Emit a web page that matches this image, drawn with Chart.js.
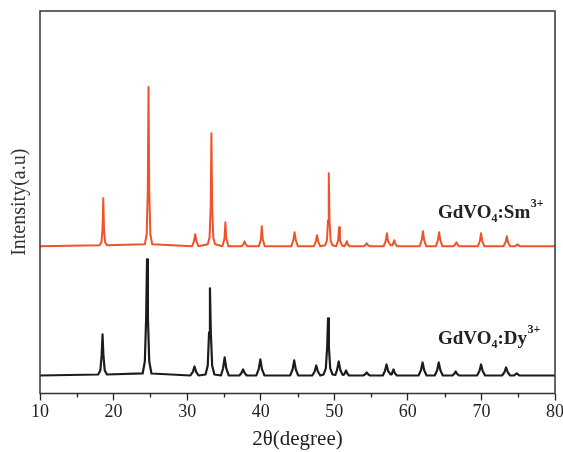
<!DOCTYPE html>
<html>
<head>
<meta charset="utf-8">
<title>GdVO4 XRD</title>
<script src="https://cdn.jsdelivr.net/npm/chart.js@4/dist/chart.umd.min.js"></script>
<style>
    body { margin: 0; background: #fff; }
    #wrap { width: 563px; height: 452px; }
</style>
</head>
<body>
<div id="wrap"><canvas id="xrdChart"></canvas></div>
<script>
// [2theta, intensity above baseline], one line per peak
const smPattern = [
    [10, 0],
    [18.1, 1], [18.35, 4], [18.5, 17], [18.6, 48], [18.7, 17], [18.85, 4], [19.1, 1],
    [24.25, 2], [24.5, 12], [24.65, 55], [24.75, 159], [24.85, 55], [25.0, 12], [25.25, 2],
    [30.65, 0], [30.93, 5], [31.1, 12], [31.27, 5], [31.55, 0],
    [32.8, 2], [33.05, 9], [33.2, 40], [33.3, 113], [33.4, 40], [33.55, 9], [33.8, 2],
    [34.8, 0], [35.08, 8], [35.2, 24], [35.32, 8], [35.6, 0],
    [37.4, 0], [37.63, 2], [37.8, 5], [37.97, 2], [38.2, 0],
    [39.75, 0], [40.03, 7], [40.15, 20], [40.27, 7], [40.55, 0],
    [44.15, 0], [44.43, 6], [44.6, 14], [44.77, 6], [45.05, 0],
    [47.2, 0], [47.48, 4.5], [47.65, 11], [47.82, 4.5], [48.1, 0],
    [48.75, 1], [49.0, 6], [49.15, 26], [49.25, 73], [49.35, 26], [49.5, 6], [49.75, 1],
    [50.25, 0], [50.53, 6], [50.65, 19], [50.77, 6], [51.05, 1],
    [51.35, 0], [51.55, 2], [51.7, 5], [51.85, 2], [52.05, 0],
    [54.0, 0], [54.22, 1.2], [54.4, 3], [54.58, 1.2], [54.8, 0],
    [56.7, 0], [56.98, 5], [57.15, 13], [57.32, 5], [57.65, 1],
    [57.9, 1], [58.0, 3], [58.15, 6], [58.3, 2.5], [58.55, 0],
    [61.6, 0], [61.88, 6], [62.05, 15], [62.22, 6], [62.5, 0],
    [63.8, 0], [64.08, 6], [64.25, 14], [64.42, 6], [64.7, 0],
    [66.2, 0], [66.42, 1.6], [66.6, 4], [66.78, 1.6], [67.0, 0],
    [69.5, 0], [69.78, 5], [69.95, 13], [70.12, 5], [70.4, 0],
    [73.0, 0], [73.28, 4], [73.45, 10], [73.62, 4], [73.9, 0],
    [74.6, 0], [74.9, 2], [75.2, 0],
    [80, 0]
];

const dyPattern = [
    [10, 0],
    [17.9, 1], [18.2, 5], [18.38, 20], [18.5, 41], [18.62, 20], [18.8, 5], [19.1, 1],
    [23.95, 2], [24.25, 14], [24.43, 58], [24.55, 116], [24.67, 58], [24.85, 14], [25.15, 2],
    [30.45, 0], [30.78, 3.6], [31.0, 9], [31.22, 3.6], [31.55, 0],
    [32.5, 1], [32.8, 10], [32.98, 43], [33.1, 87], [33.22, 43], [33.4, 10], [33.7, 1],
    [34.6, 0], [34.88, 7], [35.1, 18], [35.32, 7], [35.65, 0],
    [37.1, 0], [37.38, 2.4], [37.6, 6], [37.82, 2.4], [38.1, 0],
    [39.4, 0], [39.73, 6.4], [39.95, 16], [40.17, 6.4], [40.5, 0],
    [44.0, 0], [44.33, 6], [44.55, 15], [44.77, 6], [45.1, 0],
    [47.0, 0], [47.33, 4], [47.55, 10], [47.77, 4], [48.1, 0],
    [48.55, 1], [48.85, 7], [49.03, 28], [49.15, 57], [49.27, 28], [49.45, 7], [49.75, 1],
    [50.15, 0.5], [50.38, 5.6], [50.6, 14], [50.82, 5.6], [51.1, 1],
    [51.25, 0.5], [51.42, 2], [51.6, 5], [51.78, 2], [52.0, 0],
    [53.95, 0], [54.2, 1.2], [54.4, 3], [54.6, 1.2], [54.85, 0],
    [56.6, 0], [56.88, 4.4], [57.1, 11], [57.32, 4.4], [57.65, 1],
    [57.8, 1], [57.88, 3], [58.05, 6], [58.22, 2.4], [58.5, 0],
    [61.45, 0], [61.78, 5.2], [62.0, 13], [62.22, 5.2], [62.55, 0],
    [63.65, 0], [63.98, 5.2], [64.2, 13], [64.42, 5.2], [64.75, 0],
    [66.05, 0], [66.3, 1.6], [66.5, 4], [66.7, 1.6], [66.95, 0],
    [69.4, 0], [69.73, 4.4], [69.95, 11], [70.17, 4.4], [70.5, 0],
    [72.8, 0], [73.13, 3.2], [73.35, 8], [73.57, 3.2], [73.9, 0],
    [74.45, 0], [74.8, 2], [75.15, 0],
    [80, 0]
];

// stacking offsets for the two patterns
const smOffset = 147;
const dyOffset = 18;

const minorTicks = [15, 25, 35, 45, 55, 65, 75];
const serif = "'Liberation Serif', 'Times New Roman', serif";

function toPoints(pattern, offset) {
    return pattern.map(p => ({ x: p[0], y: p[1] + offset }));
}

// frame, minor ticks and sample labels
const extras = {
    id: "extras",
    afterDraw(chart) {
        const ctx = chart.ctx;
        const area = chart.chartArea;
        const xs = chart.scales.x;
        const ys = chart.scales.y;

        ctx.save();
        ctx.strokeStyle = "#333";
        ctx.lineWidth = 1.5;
        ctx.strokeRect(area.left, area.top, area.right - area.left, area.bottom - area.top);

        ctx.lineWidth = 1.3;
        ctx.strokeStyle = "#222";
        minorTicks.forEach(v => {
            const px = Math.round(xs.getPixelForValue(v)) + 0.5;
            ctx.beginPath();
            ctx.moveTo(px, area.bottom);
            ctx.lineTo(px, area.bottom + 4);
            ctx.stroke();
        });

        drawLabel(ctx, xs.getPixelForValue(64.1), ys.getPixelForValue(smOffset + 28), "Sm");
        drawLabel(ctx, xs.getPixelForValue(64.1), ys.getPixelForValue(dyOffset + 31), "Dy");
        ctx.restore();
    }
};

function drawLabel(ctx, x, y, ion) {
    ctx.fillStyle = "#222";
    ctx.textBaseline = "alphabetic";
    ctx.textAlign = "left";
    ctx.font = "bold 19px " + serif;
    ctx.fillText("GdVO", x, y);
    x += ctx.measureText("GdVO").width;
    ctx.font = "bold 12px " + serif;
    ctx.fillText("4", x, y + 4);
    x += ctx.measureText("4").width;
    ctx.font = "bold 19px " + serif;
    ctx.fillText(":" + ion, x, y);
    x += ctx.measureText(":" + ion).width;
    ctx.font = "bold 12px " + serif;
    ctx.fillText("3+", x + 0.5, y - 11);
}

new Chart(document.getElementById("xrdChart"), {
    type: "line",
    data: {
        datasets: [
            {
                label: "GdVO4:Sm3+",
                data: toPoints(smPattern, smOffset),
                borderColor: "#f0522a",
                borderWidth: 2,
                borderJoinStyle: "round",
                pointRadius: 0,
                tension: 0
            },
            {
                label: "GdVO4:Dy3+",
                data: toPoints(dyPattern, dyOffset),
                borderColor: "#1c1c1c",
                borderWidth: 2.2,
                borderJoinStyle: "round",
                pointRadius: 0,
                tension: 0
            }
        ]
    },
    options: {
        responsive: true,
        maintainAspectRatio: false,
        animation: false,
        layout: { padding: { top: 11, right: 8, left: 0, bottom: 0 } },
        plugins: {
            legend: { display: false },
            tooltip: { enabled: false }
        },
        scales: {
            x: {
                type: "linear",
                min: 10,
                max: 80,
                afterFit: scale => {
                    scale.height = 58.5;
                    scale.paddingLeft = 0;
                    scale.paddingRight = 0;
                },
                ticks: {
                    stepSize: 10,
                    padding: 1,
                    color: "#222",
                    font: { family: serif, size: 18 }
                },
                grid: {
                    drawOnChartArea: false,
                    tickLength: 7,
                    tickWidth: 1.3,
                    tickColor: "#222"
                },
                border: { display: false },
                title: {
                    display: true,
                    text: "2θ(degree)",
                    color: "#222",
                    font: { family: serif, size: 21 },
                    padding: { top: 0, bottom: 0 }
                }
            },
            y: {
                min: 0,
                max: 382,
                afterFit: scale => { scale.width = 40; },
                ticks: { display: false },
                grid: { display: false },
                border: { display: false },
                title: {
                    display: true,
                    text: "Intensity(a.u)",
                    color: "#333",
                    font: { family: serif, size: 20 },
                    padding: { top: 8, bottom: 0 }
                }
            }
        }
    },
    plugins: [extras]
});
</script>
</body>
</html>
